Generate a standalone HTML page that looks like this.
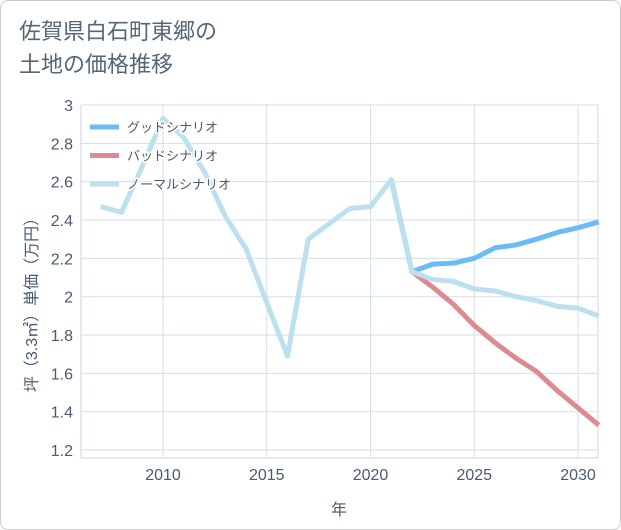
<!DOCTYPE html>
<html><head><meta charset="utf-8"><style>
body{margin:0;background:#fff;}
#wrap{position:relative;width:621px;height:530px;border:1px solid #ccc;box-sizing:border-box;border-radius:8px;overflow:hidden;font-family:"Liberation Sans","Noto Sans CJK JP",sans-serif;}
#title{position:absolute;left:18px;top:14px;font-size:22px;line-height:33px;color:#556677;}
</style></head><body>
<div id="wrap">
<div id="title">佐賀県白石町東郷の<br>土地の価格推移</div>
<svg id="chart" width="621" height="530" style="position:absolute;left:0;top:0"></svg>
</div>
<script>
const years=[2007,2008,2009,2010,2011,2012,2013,2014,2015,2016,2017,2018,2019,2020,2021,2022,2023,2024,2025,2026,2027,2028,2029,2030,2031];
const normal=[2.47,2.44,2.68,2.93,2.83,2.65,2.42,2.25,1.97,1.69,2.30,2.38,2.46,2.47,2.61,2.13,2.09,2.08,2.04,2.03,2.00,1.98,1.95,1.94,1.90];
const goodYears=[2021,2022,2023,2024,2025,2026,2027,2028,2029,2030,2031];
const good=[2.61,2.13,2.17,2.175,2.2,2.255,2.27,2.30,2.335,2.36,2.39];
const bad=[2.61,2.13,2.05,1.96,1.85,1.76,1.68,1.61,1.51,1.42,1.33];
const yTicks=[1.2,1.4,1.6,1.8,2,2.2,2.4,2.6,2.8,3];
const xTicks=[2010,2015,2020,2025,2030];
const svg=document.getElementById('chart');
const NS='http://www.w3.org/2000/svg';
const L=80,R=597,T=104,B=457;
const TXT='#4a5a70';
const x=v=>162+(v-2010)*20.75;
const y=v=>104+(3-v)*191.7;
function mk(t,a){const e=document.createElementNS(NS,t);for(const k in a)e.setAttribute(k,a[k]);svg.appendChild(e);return e;}
const bg=mk('rect',{x:L,y:T,width:R-L,height:B-T,fill:'#fff',stroke:'#ccd6e0'});


yTicks.forEach(v=>{
 const g=mk('line',{x1:L,x2:R,y1:y(v),y2:y(v),stroke:'#d5dde5'});
 
 
 const t=mk('text',{x:L-8,y:y(v)+6,'text-anchor':'end','font-size':16,fill:TXT});
 t.textContent=String(v);
 
 
});
xTicks.forEach(v=>{
 const g=mk('line',{x1:x(v),x2:x(v),y1:T,y2:B,stroke:'#d5dde5'});
 
 
 const t=mk('text',{x:x(v),y:B+22,'text-anchor':'middle','font-size':16,fill:TXT});
 t.textContent=String(v);
 
 
});
const xt=mk('text',{x:338,y:514,'text-anchor':'middle','font-size':16,fill:TXT});
xt.textContent='年';


const yt=mk('text',{x:0,y:0,'text-anchor':'middle','font-size':16,fill:TXT,transform:'translate(36,300) rotate(-90)'});
yt.textContent='坪（3.3㎡）単価（万円）';


function line(xs,vs,c,name){
 const p=mk('polyline',{points:xs.map((yy,i)=>x(yy)+','+y(vs[i])).join(' '),fill:'none',stroke:c,'stroke-width':5,'stroke-linejoin':'round'});
 
 
}
line(goodYears,bad,'#dd8a90','bad-scenario-line');
line(goodYears,good,'#6bbcf5','good-scenario-line');
line(years,normal,'#bde0ee','normal-scenario-line');
const leg=[['グッドシナリオ','#6bbcf5'],['バッドシナリオ','#dd8a90'],['ノーマルシナリオ','#bde0ee']];
leg.forEach((l,i)=>{
 const yy=126+i*28.5;
 const s=mk('line',{x1:89,x2:118,y1:yy,y2:yy,stroke:l[1],'stroke-width':5});
 
 
 const t=mk('text',{x:126,y:yy+5,'font-size':13,fill:TXT,stroke:'#fff','stroke-width':3,'paint-order':'stroke'});
 t.textContent=l[0];
 
 
});
</script>
</body></html>
